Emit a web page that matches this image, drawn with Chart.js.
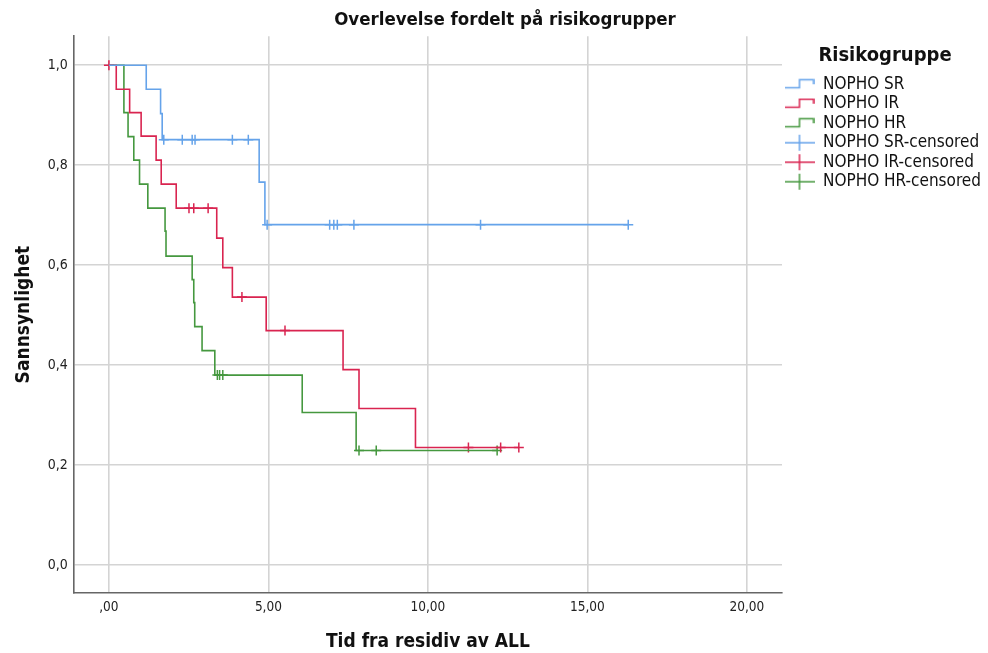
<!DOCTYPE html>
<html>
<head>
<meta charset="utf-8">
<script src="https://cdn.jsdelivr.net/npm/chart.js@4.4.1/dist/chart.umd.min.js"></script>
<style>
  html, body { margin: 0; padding: 0; background: #ffffff; }
  #wrap { width: 988px; height: 653px; }
</style>
</head>
<body>
<div id="wrap"><canvas id="km" width="988" height="653"></canvas></div>
<script>
// Kaplan-Meier steps per risk group: event times and survival after each event
const srTimes = [0, 1.17, 1.62, 1.67, 4.71, 4.89, 16.28];
const srSurvival = [1.0, 0.952, 0.903, 0.851, 0.766, 0.681, 0.681];
const srCensored = [1.72, 2.30, 2.61, 2.70, 3.87, 4.37, 4.96, 6.92, 7.05, 7.16, 7.68, 11.65, 16.28];

const irTimes = [0, 0.23, 0.65, 1.01, 1.48, 1.64, 2.11, 3.38, 3.57, 3.87, 4.93, 7.34, 7.84, 9.61, 12.85];
const irSurvival = [1.0, 0.952, 0.905, 0.858, 0.810, 0.762, 0.714, 0.654, 0.595, 0.536, 0.469, 0.391, 0.313, 0.235, 0.235];
const irCensored = [0, 2.51, 2.66, 3.11, 4.17, 5.52, 11.27, 12.28, 12.85];

const hrTimes = [0, 0.47, 0.60, 0.78, 0.96, 1.22, 1.76, 1.79, 2.61, 2.66, 2.69, 2.92, 3.32, 6.06, 7.75, 12.17];
const hrSurvival = [1.0, 0.905, 0.857, 0.810, 0.762, 0.714, 0.668, 0.618, 0.571, 0.525, 0.477, 0.429, 0.380, 0.305, 0.229, 0.229];
const hrCensored = [3.40, 3.47, 3.57, 7.84, 8.38, 12.17];

const groupNames = ['NOPHO SR', 'NOPHO IR', 'NOPHO HR'];
const groupColors = ['#65a3ea', '#d92450', '#45983f'];

const xTicks = [0, 5, 10, 15, 20];
const xTickLabels = [',00', '5,00', '10,00', '15,00', '20,00'];
const yTicks = [0, 0.2, 0.4, 0.6, 0.8, 1.0];
const yTickLabels = ['0,0', '0,2', '0,4', '0,6', '0,8', '1,0'];

const FONT = "'DejaVu Sans Condensed', 'DejaVu Sans', sans-serif";

function stepPoints(times, surv) {
  return times.map((t, i) => ({ x: t, y: surv[i] }));
}
// a censored subject sits on the curve at the survival level in force at its time
function censorPoints(times, surv, cens) {
  return cens.map(t => {
    let s = surv[0];
    for (let i = 0; i < times.length; i++) { if (times[i] <= t) s = surv[i]; }
    return { x: t, y: s };
  });
}

function stepIcon(color) {
  const c = document.createElement('canvas');
  c.width = 30; c.height = 12;
  const g = c.getContext('2d');
  g.strokeStyle = color; g.lineWidth = 1.5;
  g.beginPath();
  g.moveTo(0, 9.5); g.lineTo(15, 9.5); g.lineTo(15, 1.5); g.lineTo(29, 1.5); g.lineTo(29, 6);
  g.stroke();
  return c;
}
function censorIcon(color) {
  const c = document.createElement('canvas');
  c.width = 30; c.height = 18;
  const g = c.getContext('2d');
  g.strokeStyle = color; g.lineWidth = 1.5;
  g.beginPath();
  g.moveTo(0, 9); g.lineTo(30, 9);
  g.moveTo(15, 1); g.lineTo(15, 17);
  g.stroke();
  return c;
}

const curves = [
  [srTimes, srSurvival, srCensored],
  [irTimes, irSurvival, irCensored],
  [hrTimes, hrSurvival, hrCensored]
];

const lineSets = curves.map((c, i) => ({
  label: groupNames[i],
  data: stepPoints(c[0], c[1]),
  stepped: 'before',
  borderColor: groupColors[i],
  borderWidth: 1.6,
  pointRadius: 0,
  fill: false,
  icon: stepIcon(groupColors[i])
}));
const censorSets = curves.map((c, i) => ({
  label: groupNames[i] + '-censored',
  data: censorPoints(c[0], c[1], c[2]),
  showLine: false,
  pointStyle: 'cross',
  pointRadius: 5,
  pointHoverRadius: 5,
  borderColor: groupColors[i],
  backgroundColor: groupColors[i],
  borderWidth: 1.5,
  icon: censorIcon(groupColors[i])
}));

const shiftTitle = {
  id: 'shiftTitle',
  afterLayout(chart) {
    if (chart.titleBlock) { chart.titleBlock.left += 22; }
  }
};

new Chart(document.getElementById('km'), {
  type: 'line',
  data: { datasets: lineSets.concat(censorSets) },
  plugins: [shiftTitle],
  options: {
    responsive: false,
    animation: false,
    devicePixelRatio: 1,
    layout: { padding: 0 },
    plugins: {
      tooltip: { enabled: false },
      title: {
        display: true,
        text: 'Overlevelse fordelt på risikogrupper',
        color: '#111',
        font: { family: FONT, size: 18.5, weight: 'bold' },
        padding: { top: 9, bottom: 5 }
      },
      legend: {
        position: 'right',
        align: 'start',
        maxWidth: 206,
        title: {
          display: true,
          text: 'Risikogruppe',
          color: '#111',
          font: { family: FONT, size: 20, weight: 'bold' },
          padding: { top: 46, bottom: 3.2 }
        },
        labels: {
          color: '#222',
          font: { family: FONT, size: 17 },
          padding: 2.5,
          usePointStyle: true,
          pointStyleWidth: 30,
          generateLabels(chart) {
            return chart.data.datasets.map((ds, i) => ({
              text: ds.label,
              pointStyle: ds.icon,
              fillStyle: ds.borderColor,
              strokeStyle: ds.borderColor,
              lineWidth: 0,
              hidden: false,
              datasetIndex: i
            }));
          }
        }
      }
    },
    scales: {
      x: {
        type: 'linear',
        min: -1.1,
        max: 21.1,
        afterBuildTicks(scale) { scale.ticks = xTicks.map(v => ({ value: v })); },
        ticks: {
          autoSkip: false,
          maxRotation: 0,
          padding: 6,
          color: '#222',
          font: { family: FONT, size: 13.5 },
          callback: v => xTickLabels[xTicks.indexOf(v)]
        },
        grid: { color: '#d4d4d4', lineWidth: 1.6, drawTicks: false },
        border: { display: true, color: '#666', width: 1.6 },
        title: {
          display: true,
          text: 'Tid fra residiv av ALL',
          color: '#111',
          font: { family: FONT, size: 19, weight: 'bold' },
          padding: { top: 9, bottom: 0 }
        }
      },
      y: {
        type: 'linear',
        min: -0.056,
        max: 1.058,
        afterBuildTicks(scale) { scale.ticks = yTicks.map(v => ({ value: v })); },
        ticks: {
          autoSkip: false,
          padding: 6,
          color: '#222',
          font: { family: FONT, size: 14 },
          callback: v => yTickLabels[yTicks.findIndex(t => Math.abs(t - v) < 1e-9)]
        },
        grid: { color: '#d4d4d4', lineWidth: 1.6, drawTicks: false },
        border: { display: true, color: '#666', width: 1.6 },
        title: {
          display: true,
          text: 'Sannsynlighet',
          color: '#111',
          font: { family: FONT, size: 19, weight: 'bold' },
          padding: { top: 13, bottom: 6 }
        }
      }
    }
  }
});
</script>
</body>
</html>
